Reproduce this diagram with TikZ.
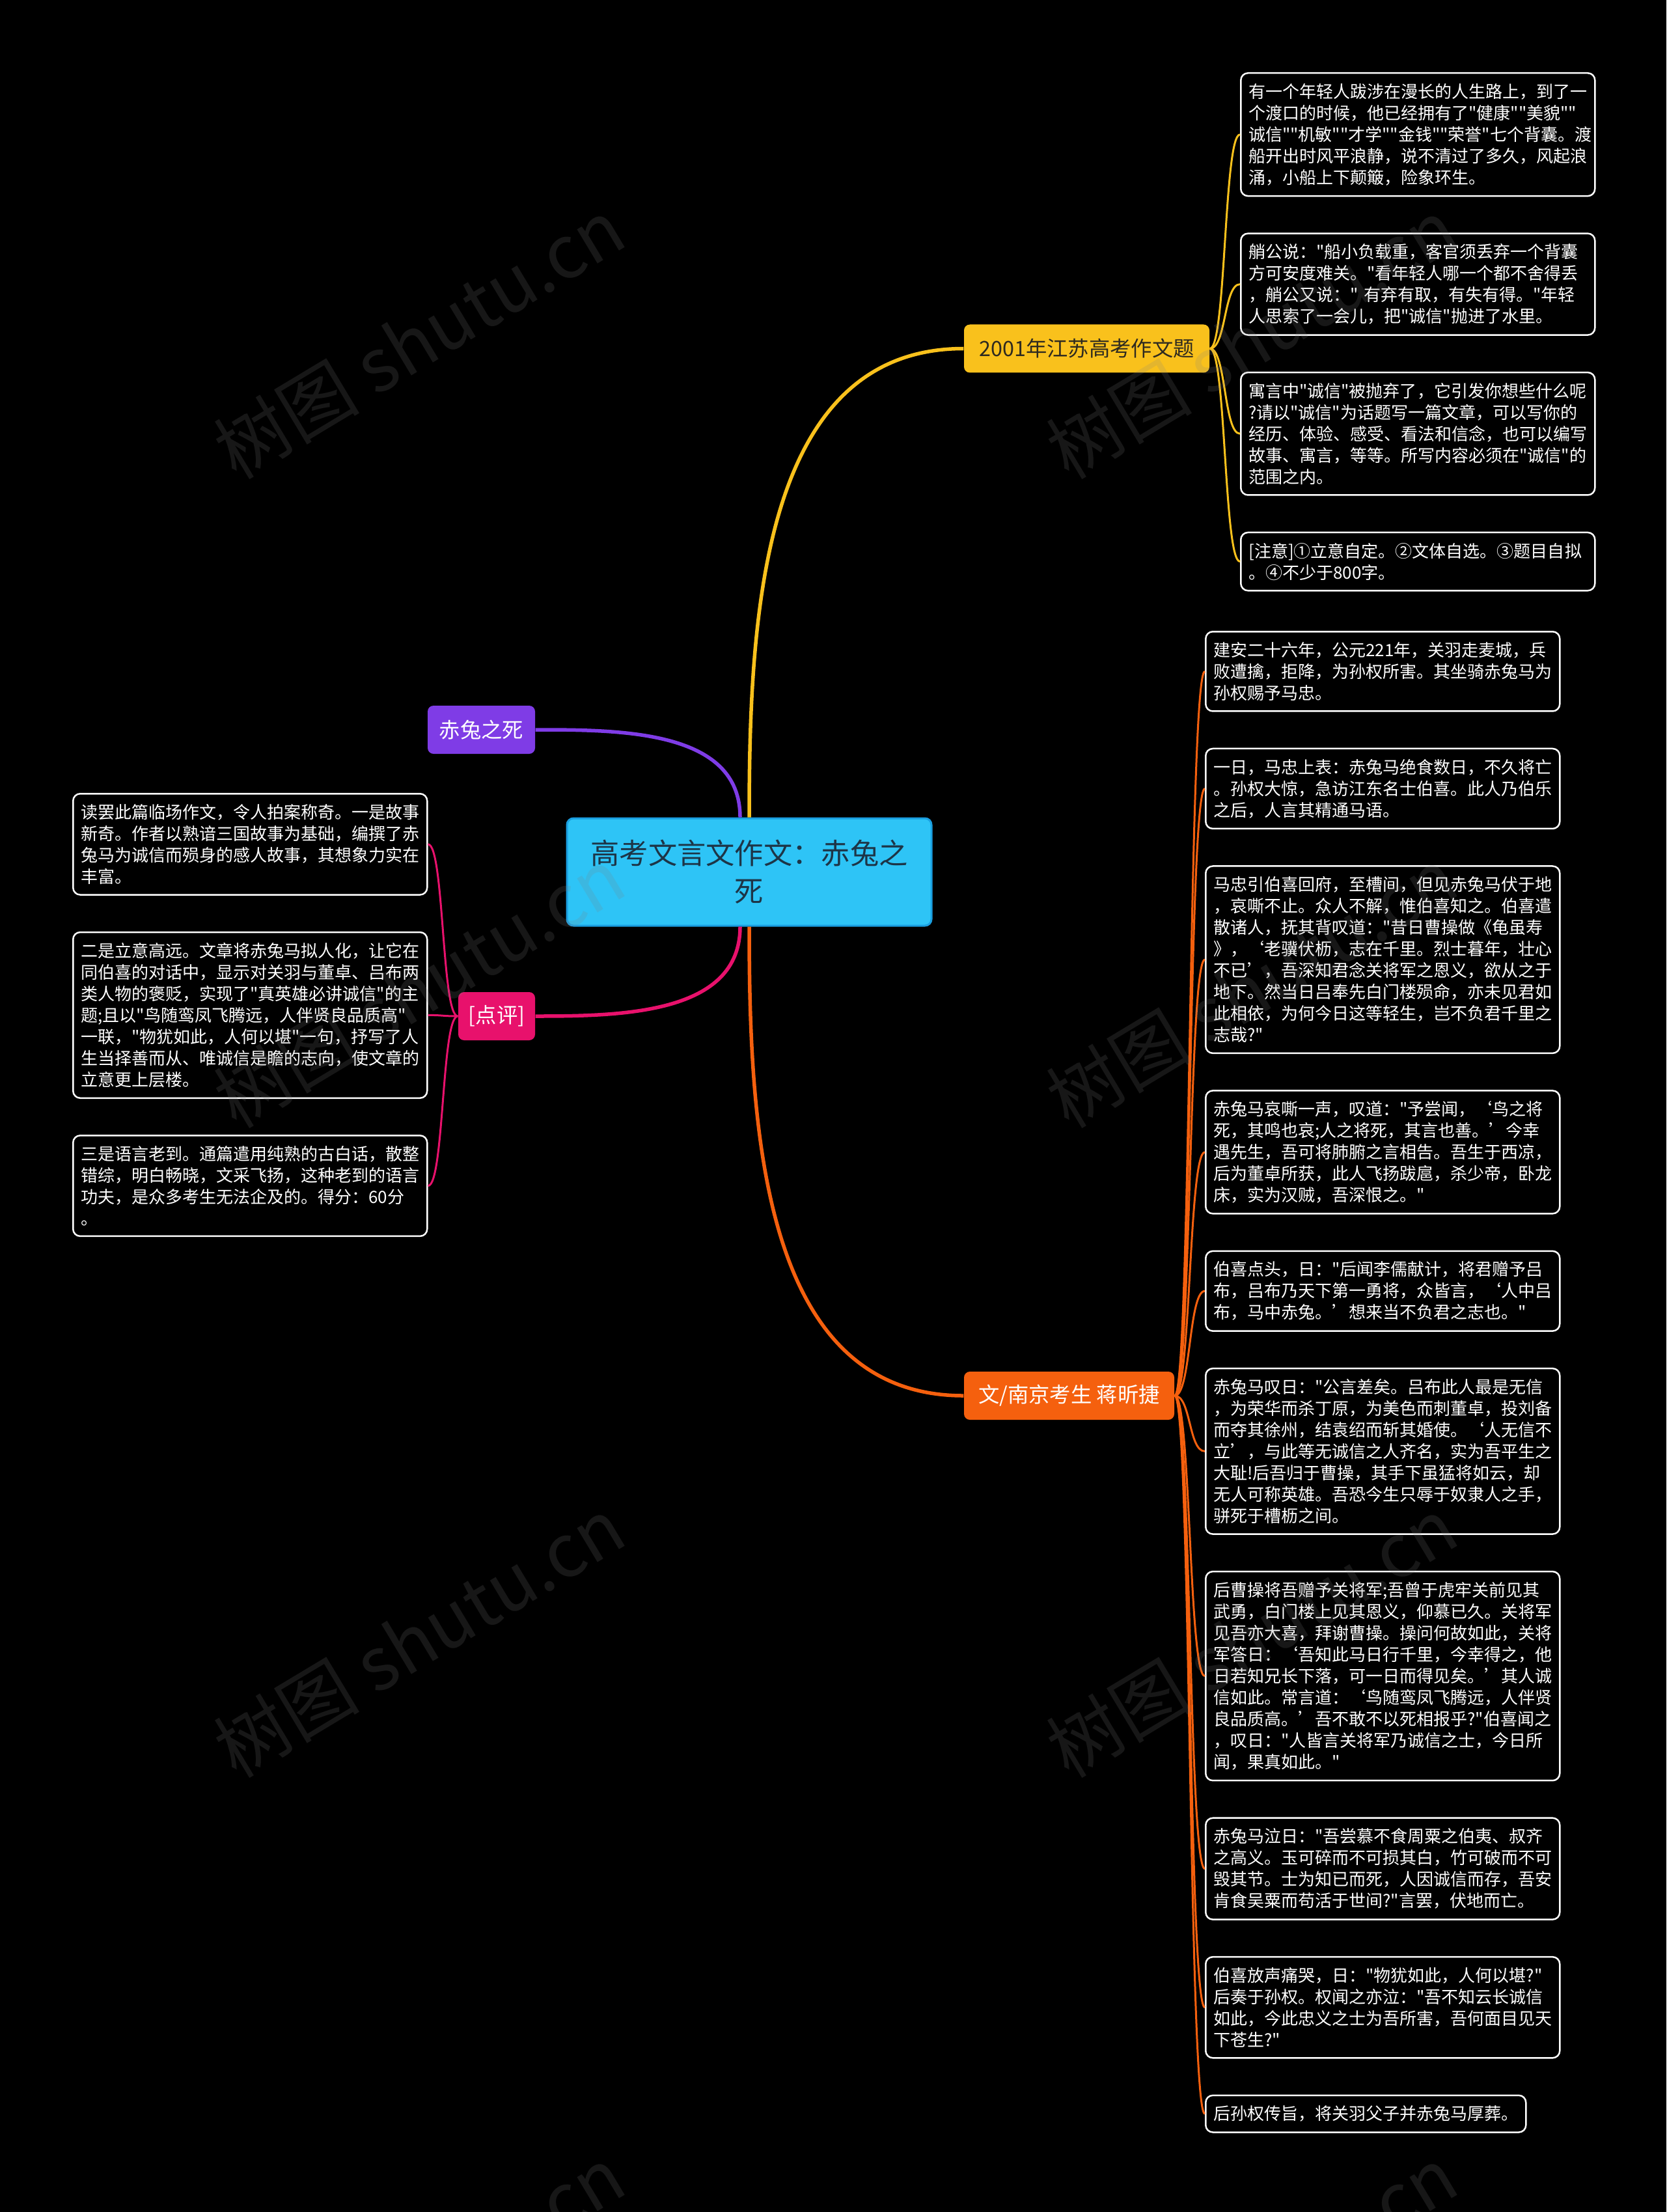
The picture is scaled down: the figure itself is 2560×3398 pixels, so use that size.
\documentclass[tikz,border=0pt]{standalone}
\usepackage{fontspec}
\setmainfont{Noto Sans CJK SC}[Ligatures=TeXOff]
\usetikzlibrary{positioning}

\definecolor{rootblue}{HTML}{2EC4F6}
\definecolor{rootline}{HTML}{1A9EE0}
\definecolor{rootink}{HTML}{1D3547}
\definecolor{topicgold}{HTML}{F9C11C}
\definecolor{topicviolet}{HTML}{7F3CE6}
\definecolor{topicrose}{HTML}{E8116C}
\definecolor{topicorange}{HTML}{F5600E}
\definecolor{darkink}{HTML}{2E2A20}

\begin{document}
\begin{tikzpicture}[x=0.1mm, y=-0.1mm,
    root/.style={rectangle, rounded corners=1mm, fill=rootblue, draw=rootline, line width=0.3mm, text=rootink, align=center, font=\fontsize{12.6pt}{16.6pt}\selectfont, minimum width=56mm, minimum height=16.5mm},
    topic/.style={rectangle, rounded corners=0.9mm, text=white, font=\fontsize{9.2pt}{11pt}\selectfont, minimum height=7.4mm, inner sep=0pt},
    leaf/.style={rectangle, rounded corners=1.1mm, draw=white, line width=0.25mm, fill=black, text=white, align=left, text width=52mm, inner xsep=1.2mm, inner ysep=1.6mm, font=\fontsize{7.4pt}{9.4pt}\selectfont},
    mainline/.style={line width=0.55mm},
    leafline/.style={line width=0.3mm},
    wmark/.style={text=gray, opacity=0.18, rotate=31, font=\fontsize{32pt}{32pt}\selectfont}]

    \useasboundingbox (0,0) rectangle (2560,3398);
    \fill[black] (0,0) rectangle (2560,3398);

    % centre and the four topics
    \node (root) [root] at (1151,1339.5) {高考文言文作文：赤兔之\\死};
    \node (gold) [topic, fill=topicgold, text=darkink, minimum width=37.7mm] at (1669.5,535.5) {2001年江苏高考作文题};
    \node (death) [topic, fill=topicviolet, minimum width=16.5mm] at (739.5,1121) {赤兔之死};
    \node (review) [topic, fill=topicrose, minimum width=11.8mm] at (763,1561) {[点评]};
    \node (author) [topic, fill=topicorange, minimum width=32.3mm] at (1642.5,2144) {文/南京考生~蒋昕捷};

    \draw[mainline, topicgold] (root.north) to[out=90, in=180] (gold.west);
    \draw[mainline, topicviolet] ([xshift=-1.4mm]root.north) to[out=90, in=0] (death.east);
    \draw[mainline, topicrose] ([xshift=-1.4mm]root.south) to[out=-90, in=0] (review.east);
    \draw[mainline, topicorange] (root.south) to[out=-90, in=180] (author.west);

    % exam question
    \node (b1) [leaf, anchor=north west] at (1905,111) {有一个年轻人跋涉在漫长的人生路上，到了一\\个渡口的时候，他已经拥有了"健康""美貌""\\诚信""机敏""才学""金钱""荣誉"七个背囊。渡\\船开出时风平浪静，说不清过了多久，风起浪\\涌，小船上下颠簸，险象环生。};
    \node (b2) [leaf, below=5.5mm of b1] {艄公说："船小负载重，客官须丢弃一个背囊\\方可安度难关。"看年轻人哪一个都不舍得丢\\，艄公又说："~有弃有取，有失有得。"年轻\\人思索了一会儿，把"诚信"抛进了水里。};
    \node (b3) [leaf, below=5.5mm of b2] {寓言中"诚信"被抛弃了，它引发你想些什么呢\\?请以"诚信"为话题写一篇文章，可以写你的\\经历、体验、感受、看法和信念，也可以编写\\故事、寓言，等等。所写内容必须在"诚信"的\\范围之内。};
    \node (b4) [leaf, below=5.5mm of b3] {[注意]①立意自定。②文体自选。③题目自拟\\。④不少于800字。};

    \foreach \n in {b1,b2,b3,b4}
        \draw[leafline, topicgold] (gold.east) .. controls +(25,0) and +(-25,0) .. (\n.west);

    % review
    \node (l1) [leaf, anchor=north west] at (111,1218) {读罢此篇临场作文，令人拍案称奇。一是故事\\新奇。作者以熟谙三国故事为基础，编撰了赤\\兔马为诚信而殒身的感人故事，其想象力实在\\丰富。};
    \node (l2) [leaf, below=5.5mm of l1] {二是立意高远。文章将赤兔马拟人化，让它在\\同伯喜的对话中，显示对关羽与董卓、吕布两\\类人物的褒贬，实现了"真英雄必讲诚信"的主\\题;且以"鸟随鸾凤飞腾远，人伴贤良品质高"\\一联，"物犹如此，人何以堪"一句，抒写了人\\生当择善而从、唯诚信是瞻的志向，使文章的\\立意更上层楼。};
    \node (l3) [leaf, below=5.5mm of l2] {三是语言老到。通篇遣用纯熟的古白话，散整\\错综，明白畅晓，文采飞扬，这种老到的语言\\功夫，是众多考生无法企及的。得分：60分\\。};

    \foreach \n in {l1,l2,l3}
        \draw[leafline, topicrose] (review.west) .. controls +(-25,0) and +(25,0) .. (\n.east);

    % the essay
    \node (o1) [leaf, anchor=north west] at (1851,969) {建安二十六年，公元221年，关羽走麦城，兵\\败遭擒，拒降，为孙权所害。其坐骑赤兔马为\\孙权赐予马忠。};
    \node (o2) [leaf, below=5.5mm of o1] {一日，马忠上表：赤兔马绝食数日，不久将亡\\。孙权大惊，急访江东名士伯喜。此人乃伯乐\\之后，人言其精通马语。};
    \node (o3) [leaf, below=5.5mm of o2] {马忠引伯喜回府，至槽间，但见赤兔马伏于地\\，哀嘶不止。众人不解，惟伯喜知之。伯喜遣\\散诸人，抚其背叹道："昔日曹操做《龟虽寿\\》，‘老骥伏枥，志在千里。烈士暮年，壮心\\不已’，吾深知君念关将军之恩义，欲从之于\\地下。然当日吕奉先白门楼殒命，亦未见君如\\此相依，为何今日这等轻生，岂不负君千里之\\志哉?"};
    \node (o4) [leaf, below=5.5mm of o3] {赤兔马哀嘶一声，叹道："予尝闻，‘鸟之将\\死，其鸣也哀;人之将死，其言也善。’今幸\\遇先生，吾可将肺腑之言相告。吾生于西凉，\\后为董卓所获，此人飞扬跋扈，杀少帝，卧龙\\床，实为汉贼，吾深恨之。"};
    \node (o5) [leaf, below=5.5mm of o4] {伯喜点头，日："后闻李儒献计，将君赠予吕\\布，吕布乃天下第一勇将，众皆言，‘人中吕\\布，马中赤兔。’想来当不负君之志也。"};
    \node (o6) [leaf, below=5.5mm of o5] {赤兔马叹日："公言差矣。吕布此人最是无信\\，为荣华而杀丁原，为美色而刺董卓，投刘备\\而夺其徐州，结袁绍而斩其婚使。‘人无信不\\立’，与此等无诚信之人齐名，实为吾平生之\\大耻!后吾归于曹操，其手下虽猛将如云，却\\无人可称英雄。吾恐今生只辱于奴隶人之手，\\骈死于槽枥之间。};
    \node (o7) [leaf, below=5.5mm of o6] {后曹操将吾赠予关将军;吾曾于虎牢关前见其\\武勇，白门楼上见其恩义，仰慕已久。关将军\\见吾亦大喜，拜谢曹操。操问何故如此，关将\\军答日：‘吾知此马日行千里，今幸得之，他\\日若知兄长下落，可一日而得见矣。’其人诚\\信如此。常言道：‘鸟随鸾凤飞腾远，人伴贤\\良品质高。’吾不敢不以死相报乎?"伯喜闻之\\，叹日："人皆言关将军乃诚信之士，今日所\\闻，果真如此。"};
    \node (o8) [leaf, below=5.5mm of o7] {赤兔马泣日："吾尝慕不食周粟之伯夷、叔齐\\之高义。玉可碎而不可损其白，竹可破而不可\\毁其节。士为知已而死，人因诚信而存，吾安\\肯食吴粟而苟活于世间?"言罢，伏地而亡。};
    \node (o9) [leaf, below=5.5mm of o8] {伯喜放声痛哭，日："物犹如此，人何以堪?"\\后奏于孙权。权闻之亦泣："吾不知云长诚信\\如此，今此忠义之士为吾所害，吾何面目见天\\下苍生?"};
    \node (o10) [leaf, text width=46.8mm, below=5.5mm of o9.south west, anchor=north west] {后孙权传旨，将关羽父子并赤兔马厚葬。};

    \foreach \n in {o1,o2,o3,o4,o5,o6,o7,o8,o9,o10}
        \draw[leafline, topicorange] (author.east) .. controls +(25,0) and +(-25,0) .. (\n.west);

    % watermark
    \foreach \wx in {644,1923}
        \foreach \wy in {520,1517,2515,3512}
            \node (wm-\wx-\wy) [wmark] at (\wx,\wy) {树图~shutu.cn};
\end{tikzpicture}
\end{document}
